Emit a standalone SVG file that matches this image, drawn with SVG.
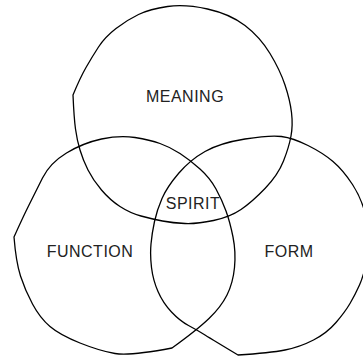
<svg xmlns="http://www.w3.org/2000/svg" width="363" height="357" viewBox="0 0 363 357">
<style>
.c{fill:none;stroke:#000;stroke-width:1.3;stroke-linejoin:round}
.t{font-family:"Liberation Sans",Arial,sans-serif;font-size:16px;letter-spacing:0.5px;fill:#222;text-anchor:middle}
</style>
<rect width="363" height="357" fill="#fff"/>
<g id="meaning">
<path class="c" d="M207.5,9 Q230,14 245,25.5 Q260,37 270,53.5 Q280,70 285,85 Q290,100 291.5,112.5 Q293,125 291,136 Q289,147 283.5,161 Q278,175 265,188.5 Q252,202 241,209.5 Q230,217 213.5,220.5 Q197,224 185,223.5 Q173,223 162.5,221 Q152,219 141,216 Q130,213 120,206.5 Q110,200 101.5,190 Q93,180 88,170 Q83,160 80,150 Q77,140 75.5,129 Q74,118 73,95 Q80,78 86,67.5 Q92,57 98.5,47 Q105,37 116,28.5 Q127,20 138.5,14.5 Q150,9 167.5,6.5 Q185,4 207.5,9 Z"/>
<text class="t" x="185" y="102">MEANING</text>
</g>
<g id="function">
<path class="c" d="M135,137.5 Q150,140 160,143.5 Q170,147 180,153.5 Q190,160 200,169 Q210,178 216,189 Q222,200 226,211 Q230,222 233,237 Q236,252 234.5,267.5 Q233,283 227,295 Q221,307 209,318.5 Q197,330 172,348 Q130,356 115,353.5 Q100,351 80,343 Q60,335 50,326.5 Q40,318 32.5,304 Q25,290 20.5,276 Q16,262 14,237 Q23,217 29,205 Q35,193 42.5,178 Q50,163 66.5,153 Q83,143 101.5,139 Q120,135 135,137.5 Z"/>
<text class="t" x="90" y="257">FUNCTION</text>
</g>
<g id="form">
<path class="c" d="M281.5,136.5 Q293,138 308,145.5 Q323,153 333,161.5 Q343,170 352.5,184.5 Q362,199 366.5,218.5 Q371,238 367.5,256.5 Q364,275 359.5,285 Q355,295 350,303.5 Q345,312 336,322.5 Q327,333 313.5,340 Q300,347 285,350 Q270,353 238,355 Q213,340 205,335 Q197,330 188.5,325.5 Q180,321 171.5,312 Q163,303 158,291.5 Q153,280 151.5,267.5 Q150,255 151,244 Q152,233 154.5,221.5 Q157,210 162,198.5 Q167,187 178.5,173.5 Q190,160 205,151.5 Q220,143 245,139 Q270,135 281.5,136.5 Z"/>
<text class="t" x="289" y="257">FORM</text>
</g>
<g id="spirit">
<text class="t" x="193" y="209">SPIRIT</text>
</g>
<g id="connectors"/>
</svg>
